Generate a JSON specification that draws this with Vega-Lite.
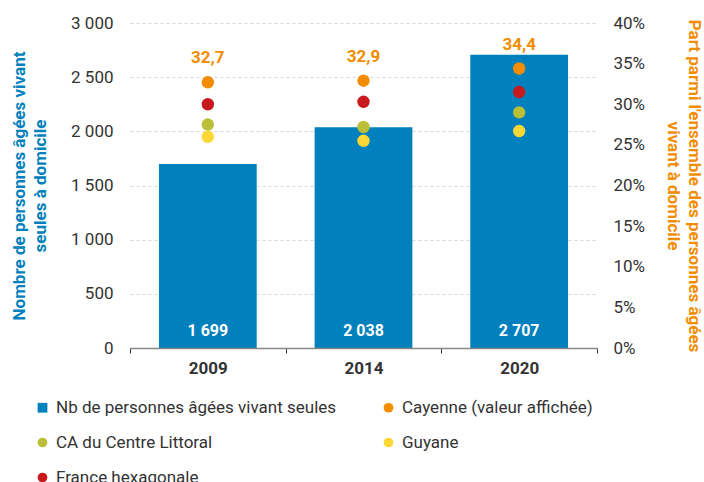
{
  "$schema": "https://vega.github.io/schema/vega-lite/v6.json",
  "width": 467,
  "height": 325,
  "autosize": {"type": "none"},
  "padding": {"left": 130, "top": 23, "right": 107, "bottom": 134},
  "config": {
    "font": "Roboto",
    "locale": {"number": {"decimal": ",", "thousands": " ", "grouping": [3], "currency": ["", " €"]}},
    "view": {"stroke": null},
    "axis": {"labelFont": "Roboto", "labelFontSize": 17, "labelColor": "#333333", "titleFont": "Roboto"}
  },
  "data": {
    "values": [
      {"annee": "2009", "serie": "Nb de personnes âgées vivant seules", "valeur": 1699},
      {"annee": "2014", "serie": "Nb de personnes âgées vivant seules", "valeur": 2038},
      {"annee": "2020", "serie": "Nb de personnes âgées vivant seules", "valeur": 2707},
      {"annee": "2009", "serie": "Cayenne (valeur affichée)", "valeur": 32.7},
      {"annee": "2014", "serie": "Cayenne (valeur affichée)", "valeur": 32.9},
      {"annee": "2020", "serie": "Cayenne (valeur affichée)", "valeur": 34.4},
      {"annee": "2009", "serie": "France hexagonale", "valeur": 30.0},
      {"annee": "2014", "serie": "France hexagonale", "valeur": 30.3},
      {"annee": "2020", "serie": "France hexagonale", "valeur": 31.5},
      {"annee": "2009", "serie": "CA du Centre Littoral", "valeur": 27.5},
      {"annee": "2014", "serie": "CA du Centre Littoral", "valeur": 27.2},
      {"annee": "2020", "serie": "CA du Centre Littoral", "valeur": 29.0},
      {"annee": "2009", "serie": "Guyane", "valeur": 26.0},
      {"annee": "2014", "serie": "Guyane", "valeur": 25.5},
      {"annee": "2020", "serie": "Guyane", "valeur": 26.7}
    ]
  },
  "layer": [
    {
      "transform": [{"filter": "datum.serie === 'Nb de personnes âgées vivant seules'"}],
      "layer": [
        {
          "mark": {"type": "bar", "width": {"band": 0.628}},
          "encoding": {
            "x": {
              "field": "annee", "type": "ordinal",
              "scale": {"paddingInner": 0, "paddingOuter": 0},
              "axis": {
                "title": null, "labelAngle": 0, "labelFontWeight": "bold", "labelFontSize": 17,
                "labelColor": "#333333", "tickBand": "extent", "tickSize": 5, "tickColor": "#333333",
                "domainColor": "#888888", "domainWidth": 1.5, "labelPadding": 7, "zindex": 1
              }
            },
            "y": {
              "field": "valeur", "type": "quantitative",
              "scale": {"domain": [0, 3000]},
              "axis": {
                "values": [0, 500, 1000, 1500, 2000, 2500, 3000], "format": ",.0f",
                "domain": false, "ticks": false, "labelPadding": 17,
                "grid": true, "gridColor": "#d9d9d9", "gridDash": [3, 3], "gridWidth": 1,
                "title": ["Nombre de personnes âgées vivant", "seules à domicile"],
                "titleColor": "#0080BC", "titleFontSize": 17, "titleFontWeight": "bold",
                "titleLineHeight": 21, "titlePadding": 21
              }
            },
            "color": {
              "field": "serie", "type": "nominal",
              "scale": {
                "domain": ["Nb de personnes âgées vivant seules", "Cayenne (valeur affichée)", "CA du Centre Littoral", "Guyane", "France hexagonale"],
                "range": ["#0080BC", "#F28C00", "#BBBF38", "#FDD835", "#C8191C"]
              },
              "legend": {
                "orient": "none", "legendX": -96, "legendY": 376, "columns": 2, "direction": "horizontal",
                "title": null, "labelFontSize": 17, "labelColor": "#333333", "labelFont": "Roboto", "labelLimit": 400,
                "symbolSize": 95, "labelOffset": 5, "rowPadding": 17, "columnPadding": 43, "symbolStrokeWidth": 0
              }
            }
          }
        },
        {
          "mark": {"type": "text", "dy": -17, "fontWeight": "bold", "fontSize": 16, "color": "white", "font": "Roboto"},
          "encoding": {
            "x": {"field": "annee", "type": "ordinal"},
            "y": {"datum": 0, "type": "quantitative"},
            "text": {"field": "valeur", "type": "quantitative", "format": ",.0f"}
          }
        }
      ]
    },
    {
      "transform": [{"filter": "datum.serie !== 'Nb de personnes âgées vivant seules'"}],
      "layer": [
        {
          "mark": {"type": "point", "filled": true, "size": 154, "opacity": 1},
          "encoding": {
            "x": {"field": "annee", "type": "ordinal"},
            "y": {
              "field": "valeur", "type": "quantitative",
              "scale": {"domain": [0, 40]},
              "axis": {
                "orient": "right", "values": [0, 5, 10, 15, 20, 25, 30, 35, 40],
                "labelExpr": "datum.value + '%'",
                "domain": false, "ticks": false, "grid": false, "labelPadding": 16,
                "title": ["Part parmi l'ensemble des personnes âgées", "vivant à domicile"],
                "titleColor": "#F28C00", "titleFontSize": 17, "titleFontWeight": "bold",
                "titleLineHeight": 21, "titlePadding": 19, "titleAngle": 90
              }
            },
            "color": {"field": "serie", "type": "nominal"},
            "shape": {
              "field": "serie", "type": "nominal",
              "scale": {
                "domain": ["Nb de personnes âgées vivant seules", "Cayenne (valeur affichée)", "CA du Centre Littoral", "Guyane", "France hexagonale"],
                "range": ["square", "circle", "circle", "circle", "circle"]
              },
              "legend": {
                "orient": "none", "legendX": -96, "legendY": 376, "columns": 2, "direction": "horizontal",
                "title": null, "labelFontSize": 17, "labelColor": "#333333", "labelFont": "Roboto", "labelLimit": 400,
                "symbolSize": 95, "labelOffset": 5, "rowPadding": 17, "columnPadding": 43, "symbolStrokeWidth": 0
              }
            }
          }
        },
        {
          "transform": [{"filter": "datum.serie === 'Cayenne (valeur affichée)'"}],
          "mark": {"type": "text", "dy": -24, "fontWeight": "bold", "fontSize": 17, "color": "#F28C00", "font": "Roboto"},
          "encoding": {
            "x": {"field": "annee", "type": "ordinal"},
            "y": {"field": "valeur", "type": "quantitative"},
            "text": {"field": "valeur", "type": "quantitative", "format": ".1f"}
          }
        }
      ]
    }
  ],
  "resolve": {"scale": {"y": "independent"}}
}
